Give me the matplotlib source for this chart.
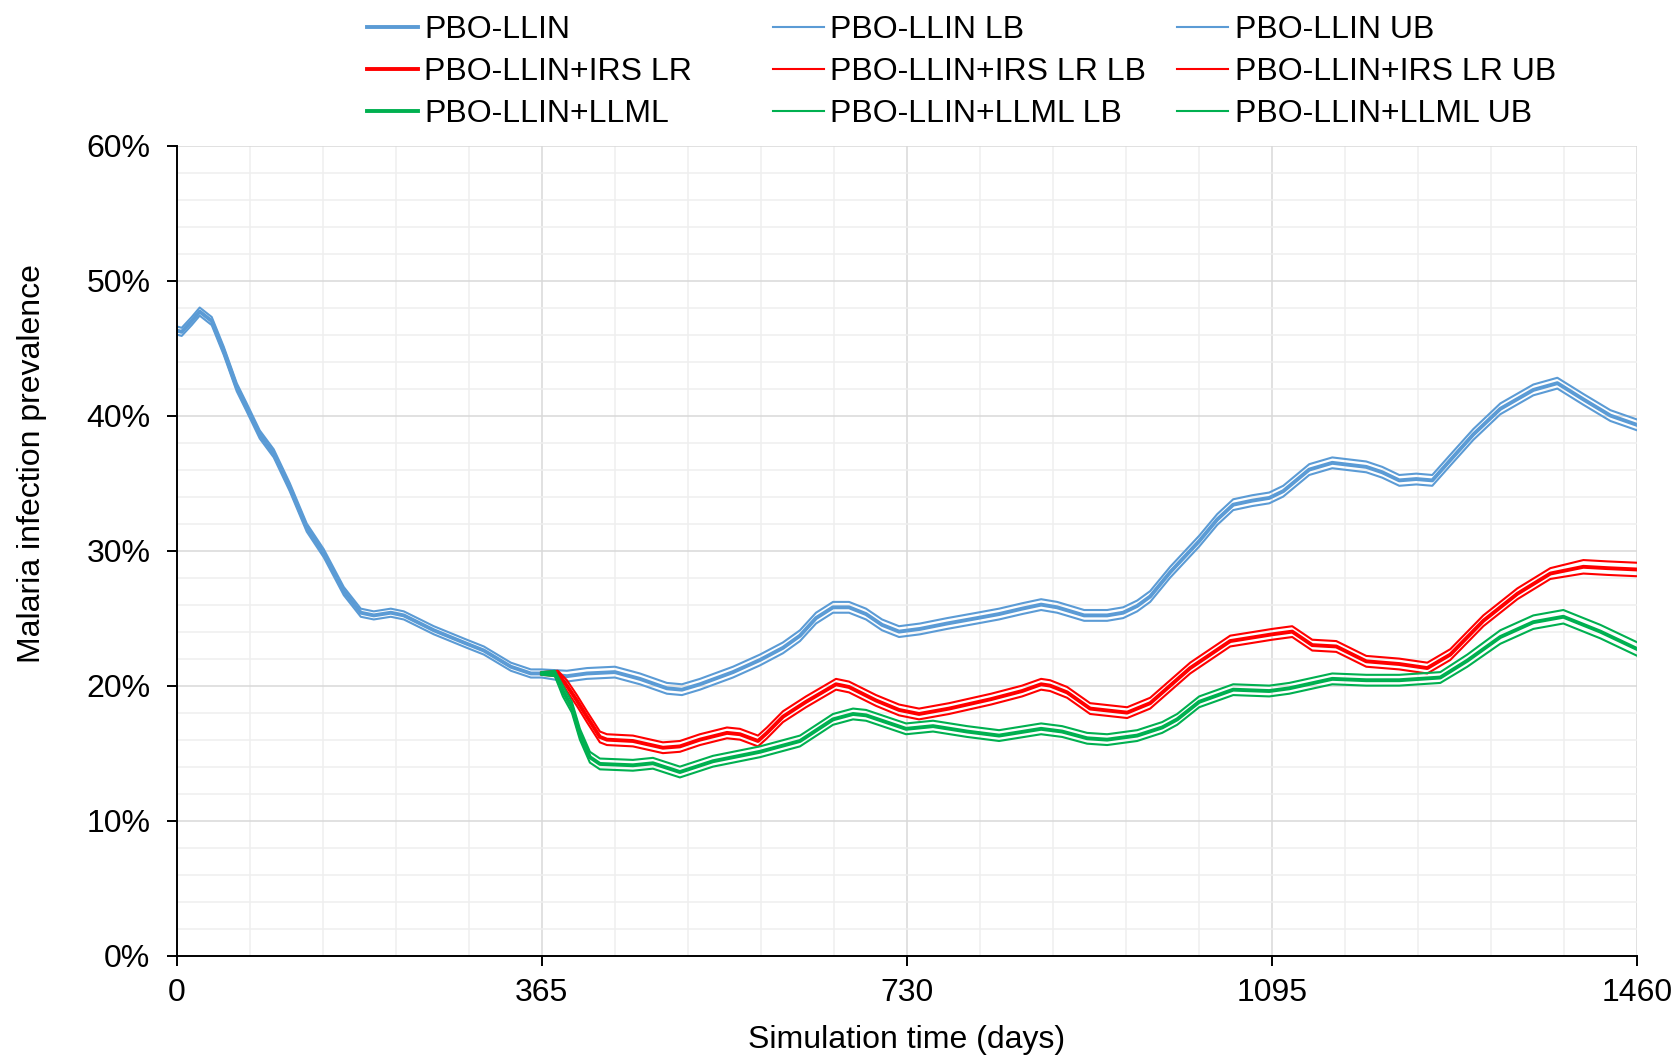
import matplotlib
matplotlib.use("Agg")
import matplotlib.pyplot as plt
from matplotlib.ticker import MultipleLocator, PercentFormatter

plt.rcParams['font.family'] = ['Liberation Sans', 'DejaVu Sans']

# PBO-LLIN (prevalence, %)
llin_days = [0, 5, 15, 23, 35, 47, 60, 70, 83, 97, 113, 130, 147, 167, 184, 197,
             214, 227, 257, 290, 307, 334, 354, 365, 390, 410, 438, 463, 490, 505,
             523, 556, 583, 606, 623, 639, 656, 672, 689, 705, 722, 743, 770, 800,
             822, 845, 864, 880, 907, 930, 946, 960, 973, 993, 1022, 1040, 1056,
             1075, 1092, 1106, 1132, 1155, 1189, 1205, 1222, 1239, 1255, 1273,
             1296, 1323, 1356, 1380, 1406, 1433, 1460]
llin = [46.3, 46.2, 47.0, 47.7, 47.0, 44.8, 42.1, 40.6, 38.6, 37.2, 34.7, 31.7,
        29.8, 27.0, 25.4, 25.2, 25.4, 25.2, 24.1, 23.1, 22.6, 21.4, 20.9, 20.9,
        20.7, 20.9, 21.0, 20.5, 19.8, 19.7, 20.1, 21.0, 21.9, 22.8, 23.7, 25.0,
        25.8, 25.8, 25.3, 24.5, 24.0, 24.2, 24.6, 25.0, 25.3, 25.7, 26.0, 25.8,
        25.2, 25.2, 25.4, 25.9, 26.6, 28.4, 30.7, 32.3, 33.4, 33.7, 33.9, 34.4,
        36.0, 36.5, 36.2, 35.8, 35.2, 35.3, 35.2, 36.7, 38.6, 40.5, 41.9, 42.4,
        41.2, 40.0, 39.3]
llin_lb = [46.0, 45.9, 46.7, 47.4, 46.7, 44.5, 41.8, 40.3, 38.3, 36.9, 34.4, 31.4,
           29.5, 26.7, 25.1, 24.9, 25.1, 24.9, 23.8, 22.8, 22.3, 21.1, 20.6, 20.6,
           20.3, 20.5, 20.6, 20.1, 19.4, 19.3, 19.7, 20.6, 21.5, 22.4, 23.3, 24.6,
           25.4, 25.4, 24.9, 24.1, 23.6, 23.8, 24.2, 24.6, 24.9, 25.3, 25.6, 25.4,
           24.8, 24.8, 25.0, 25.5, 26.2, 28.0, 30.3, 31.9, 33.0, 33.3, 33.5, 34.0,
           35.6, 36.1, 35.8, 35.4, 34.8, 34.9, 34.8, 36.3, 38.2, 40.1, 41.5, 42.0,
           40.8, 39.6, 38.9]
llin_ub = [46.6, 46.5, 47.3, 48.0, 47.3, 45.1, 42.4, 40.9, 38.9, 37.5, 35.0, 32.0,
           30.1, 27.3, 25.7, 25.5, 25.7, 25.5, 24.4, 23.4, 22.9, 21.7, 21.2, 21.2,
           21.1, 21.3, 21.4, 20.9, 20.2, 20.1, 20.5, 21.4, 22.3, 23.2, 24.1, 25.4,
           26.2, 26.2, 25.7, 24.9, 24.4, 24.6, 25.0, 25.4, 25.7, 26.1, 26.4, 26.2,
           25.6, 25.6, 25.8, 26.3, 27.0, 28.8, 31.1, 32.7, 33.8, 34.1, 34.3, 34.8,
           36.4, 36.9, 36.6, 36.2, 35.6, 35.7, 35.6, 37.1, 39.0, 40.9, 42.3, 42.8,
           41.6, 40.4, 39.7]

# PBO-LLIN+IRS LR
irs_days = [365, 381, 390, 400, 410, 423, 430, 456, 486, 503, 523, 550, 563, 581,
            590, 606, 629, 659, 672, 699, 722, 742, 772, 814, 845, 864, 873, 890,
            913, 950, 973, 1013, 1053, 1095, 1115, 1135, 1159, 1189, 1222, 1250,
            1273, 1306, 1340, 1373, 1406, 1430, 1460]
irs = [20.9, 20.9, 20.0, 18.9, 17.7, 16.2, 16.0, 15.9, 15.4, 15.5, 16.0, 16.5,
       16.4, 15.9, 16.5, 17.7, 18.8, 20.1, 19.9, 18.9, 18.2, 17.9, 18.3, 19.0,
       19.6, 20.1, 20.0, 19.5, 18.3, 18.0, 18.7, 21.3, 23.3, 23.8, 24.0, 23.0,
       22.9, 21.8, 21.6, 21.3, 22.3, 24.8, 26.8, 28.3, 28.8, 28.7, 28.6]
irs_lb = [20.8, 20.7, 19.6, 18.5, 17.3, 15.8, 15.6, 15.5, 15.0, 15.1, 15.6, 16.1,
          16.0, 15.5, 16.1, 17.3, 18.4, 19.7, 19.5, 18.5, 17.8, 17.5, 17.9, 18.6,
          19.2, 19.7, 19.6, 19.1, 17.9, 17.6, 18.3, 20.9, 22.9, 23.4, 23.6, 22.6,
          22.5, 21.4, 21.2, 20.9, 21.9, 24.4, 26.4, 27.9, 28.3, 28.2, 28.1]
irs_ub = [21.0, 21.1, 20.4, 19.3, 18.1, 16.6, 16.4, 16.3, 15.8, 15.9, 16.4, 16.9,
          16.8, 16.3, 16.9, 18.1, 19.2, 20.5, 20.3, 19.3, 18.6, 18.3, 18.7, 19.4,
          20.0, 20.5, 20.4, 19.9, 18.7, 18.4, 19.1, 21.7, 23.7, 24.2, 24.4, 23.4,
          23.3, 22.2, 22.0, 21.7, 22.7, 25.2, 27.2, 28.7, 29.3, 29.2, 29.1]

# PBO-LLIN+LLML
llml_days = [365, 378, 386, 395, 403, 413, 423, 456, 476, 503, 536, 583, 623, 656,
             676, 689, 729, 756, 790, 822, 864, 885, 910, 930, 960, 985, 1000,
             1022, 1056, 1092, 1112, 1155, 1189, 1222, 1263, 1290, 1323, 1356,
             1386, 1423, 1460]
llml = [20.9, 20.9, 19.6, 18.4, 16.4, 14.7, 14.2, 14.1, 14.25, 13.6, 14.4, 15.1,
        15.9, 17.5, 17.9, 17.8, 16.8, 17.0, 16.6, 16.3, 16.8, 16.6, 16.1, 16.0,
        16.3, 16.9, 17.5, 18.8, 19.7, 19.6, 19.8, 20.5, 20.4, 20.4, 20.6, 21.85,
        23.6, 24.7, 25.1, 24.0, 22.7]
llml_lb = [20.8, 20.7, 19.2, 18.0, 16.0, 14.3, 13.8, 13.7, 13.85, 13.2, 14.0, 14.7,
           15.5, 17.1, 17.5, 17.4, 16.4, 16.6, 16.2, 15.9, 16.4, 16.2, 15.7, 15.6,
           15.9, 16.5, 17.1, 18.4, 19.3, 19.2, 19.4, 20.1, 20.0, 20.0, 20.2, 21.4,
           23.1, 24.2, 24.6, 23.5, 22.2]
llml_ub = [21.0, 21.1, 20.0, 18.8, 16.8, 15.1, 14.6, 14.5, 14.65, 14.0, 14.8, 15.5,
           16.3, 17.9, 18.3, 18.2, 17.2, 17.4, 17.0, 16.7, 17.2, 17.0, 16.5, 16.4,
           16.7, 17.3, 17.9, 19.2, 20.1, 20.0, 20.2, 20.9, 20.8, 20.8, 21.0, 22.3,
           24.1, 25.2, 25.6, 24.5, 23.2]

blue = '#5B9BD5'
red = '#FF0000'
green = '#00B050'

fig = plt.figure(figsize=(16.78, 10.56), dpi=100)
ax = fig.add_axes([0.1053, 0.0950, 0.8705, 0.7672])

series = [
    (llin_days, llin, llin_lb, llin_ub, blue, 'PBO-LLIN'),
    (irs_days, irs, irs_lb, irs_ub, red, 'PBO-LLIN+IRS LR'),
    (llml_days, llml, llml_lb, llml_ub, green, 'PBO-LLIN+LLML'),
]

cols = [[], [], []]
for days, mean, lb, ub, c, name in series:
    h0, = ax.plot(days, mean, color=c, lw=2.8, solid_joinstyle='round', label=name)
    h1, = ax.plot(days, lb, color=c, lw=1.5, solid_joinstyle='round', label=name + ' LB')
    h2, = ax.plot(days, ub, color=c, lw=1.5, solid_joinstyle='round', label=name + ' UB')
    cols[0].append(h0)
    cols[1].append(h1)
    cols[2].append(h2)

ax.set_xlim(0, 1460)
ax.set_ylim(0, 60)
ax.xaxis.set_major_locator(MultipleLocator(365))
ax.xaxis.set_minor_locator(MultipleLocator(73))
ax.yaxis.set_major_locator(MultipleLocator(10))
ax.yaxis.set_minor_locator(MultipleLocator(2))
ax.yaxis.set_major_formatter(PercentFormatter(xmax=100, decimals=0))

ax.grid(which='major', color='#D9D9D9', lw=1.1)
ax.grid(which='minor', color='#EFEFEF', lw=1.1)
ax.set_axisbelow(True)

for s in ['top', 'right']:
    ax.spines[s].set_visible(False)
for s in ['left', 'bottom']:
    ax.spines[s].set_linewidth(1.4)
    ax.spines[s].set_color('black')

ax.tick_params(which='major', length=7, width=1.4, labelsize=23, color='black')
ax.tick_params(axis='y', which='major', pad=12)
ax.tick_params(axis='x', which='major', pad=9)
ax.tick_params(which='minor', length=0)

ax.set_xlabel('Simulation time (days)', fontsize=23)
ax.set_ylabel('Malaria infection prevalence', fontsize=23)
ax.xaxis.set_label_coords(0.5, -0.085)
ax.yaxis.set_label_coords(-0.089, 0.608)

xs = [0.2187, 0.4605, 0.7015]
for x, hs in zip(xs, cols):
    fig.legend(handles=hs, loc='upper left', bbox_to_anchor=(x, 0.986),
               frameon=False, fontsize=23, handlelength=1.6, handletextpad=0.2,
               borderpad=0, borderaxespad=0, labelspacing=0.38)

fig.savefig('out.png', dpi=100)
